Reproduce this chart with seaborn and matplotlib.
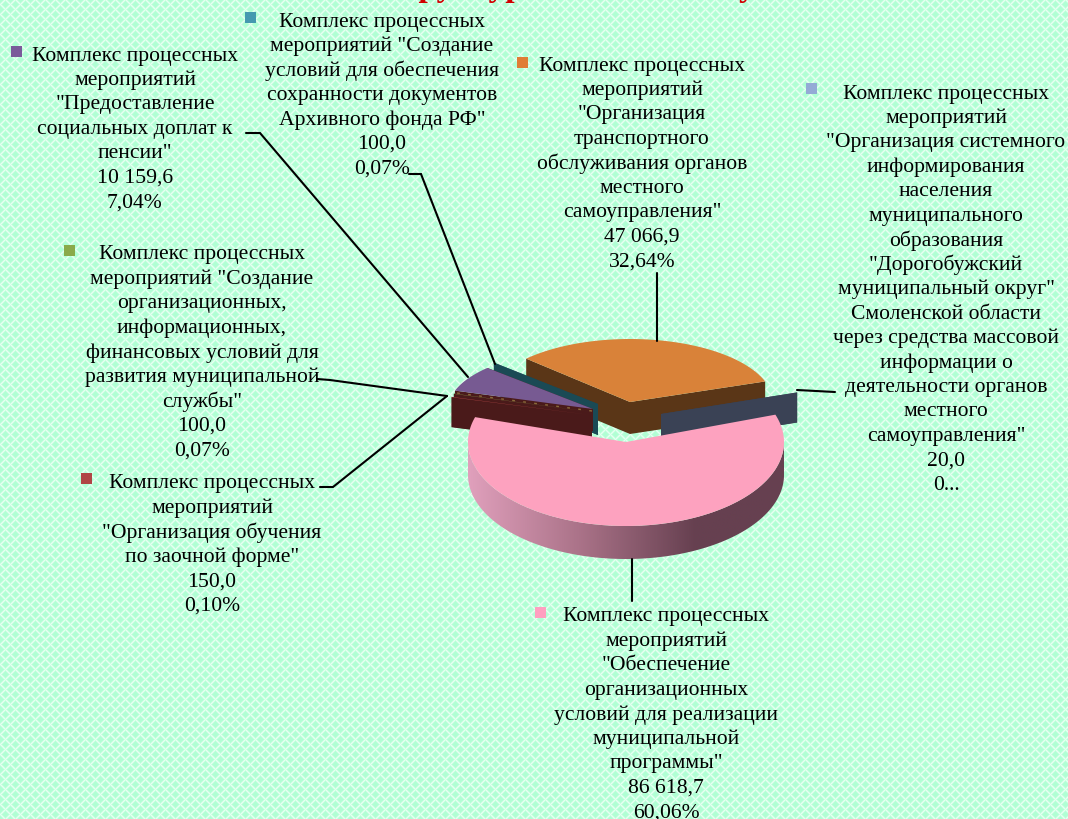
import numpy as np
import matplotlib.pyplot as plt
from matplotlib.colors import LinearSegmentedColormap, to_rgb
from matplotlib.patches import Polygon
import seaborn as sns

W, H = 1068, 820

# slices, counter-clockwise starting from the right
slice_names = ["blue", "orange", "teal", "purple", "green", "red", "pink"]
slice_values = [20.0, 47066.9, 100.0, 10159.6, 100.0, 150.0, 86618.7]
top_colors = ["#3a4255", "#d98239", "#1a4a55", "#775a92", "#8aaa4a", "#b04545", "#fda2bf"]
wall_colors = ["#3a4255", "#5a3617", "#1a4a55", "#4a1a1a", "#4a1a1a", "#4a1a1a", "#664050"]
key_colors = ["#94aad6", "#e07d35", "#4599b0", "#7a5a9a", "#8aaa4a", "#b04545", "#ff9fc0"]

blue_lines = ["Комплекс процессных", "мероприятий", "\"Организация системного", "информирования",
              "населения", "муниципального", "образования", "\"Дорогобужский",
              "муниципальный округ\"", "Смоленской области", "через средства массовой",
              "информации о", "деятельности органов", "местного", "самоуправления\"", "20,0", "0..."]
orange_lines = ["Комплекс процессных", "мероприятий", "\"Организация", "транспортного",
                "обслуживания органов", "местного", "самоуправления\"", "47 066,9", "32,64%"]
teal_lines = ["Комплекс процессных", "мероприятий \"Создание", "условий для обеспечения",
              "сохранности документов", "Архивного фонда РФ\"", "100,0", "0,07%"]
purple_lines = ["Комплекс процессных", "мероприятий", "\"Предоставление", "социальных доплат к",
                "пенсии\"", "10 159,6", "7,04%"]
green_lines = ["Комплекс процессных", "мероприятий \"Создание", "организационных,", "информационных,",
               "финансовых условий для", "развития муниципальной", "службы\"", "100,0", "0,07%"]
red_lines = ["Комплекс процессных", "мероприятий", "\"Организация обучения", "по заочной форме\"",
             "150,0", "0,10%"]
pink_lines = ["Комплекс процессных", "мероприятий", "\"Обеспечение", "организационных",
              "условий для реализации", "муниципальной", "программы\"", "86 618,7", "60,06%"]

sns.set_theme(style="white")
plt.rcParams["font.family"] = ["Liberation Serif", "DejaVu Serif"]

fig = plt.figure(figsize=(W / 100, H / 100), dpi=100)
ax = fig.add_axes([0, 0, 1, 1])

# lattice texture behind the chart
yy, xx = np.mgrid[0:H, 0:W]
period = 10
d1 = np.abs((xx + yy) % period - period / 2)
d2 = np.abs((xx - yy) % period - period / 2)
shade = np.clip((2.2 - np.minimum(d1, d2)) / 2.2, 0, 1)[..., None]
mint = np.array(to_rgb("#b0ffd4"))
ax.imshow(mint + (1 - mint) * shade * 0.7, extent=(0, W, H, 0), aspect="auto", zorder=0)

# angles from the values
start_angle = 19.0
sweeps = np.array(slice_values) / sum(slice_values) * 360
ends = start_angle + np.cumsum(sweeps)
starts = ends - sweeps


def rim(cx, cy, rx, ry, a0, a1, n=120):
    t = np.radians(np.linspace(a0, a1, n))
    return cx + rx * np.cos(t), cy - ry * np.sin(t)


def slab(name, cx, cy, rx, ry, depth, z):
    i = slice_names.index(name)
    xs, ys = rim(cx, cy, rx, ry, starts[i], ends[i])
    # cut faces first, then the top
    for k in (0, -1):
        ax.fill([cx, xs[k], xs[k], cx], [cy, ys[k], ys[k] + depth, cy + depth],
                color=wall_colors[i], lw=0, zorder=z)
    ax.fill(np.r_[cx, xs], np.r_[cy, ys], color=top_colors[i], lw=0, zorder=z + 0.2)


slab("orange", 630, 403, 143, 63, 32, 2)
slab("blue", 661, 415, 144, 66, 30, 3)
slab("teal", 598, 405, 143, 60, 31, 4)
slab("purple", 593, 410, 145, 60, 22, 4.5)
slab("green", 592, 413, 145, 60, 30, 5)
slab("red", 590, 416, 145, 60, 30, 5.2)

# small dashes where the two thin slices meet the purple one
gi = slice_names.index("green")
gx, gy = rim(592, 412, 145, 60, starts[gi], starts[gi], 2)
ax.plot([592, gx[0]], [412, gy[0]], color="#8a6a3a", lw=1, dashes=(2, 6), zorder=5.5)

# pink slice: rim with shading that darkens to the right
p = slice_names.index("pink")
pcx, pcy, prx, pry, pdepth = 626, 443, 158, 84, 33
wall_cmap = LinearSegmentedColormap.from_list(
    "pink_wall", [(0.0, "#e0a0bc"), (0.35, "#ab7389"), (0.72, "#664050"), (1.0, "#664050")])
xs, ys = rim(pcx, pcy, prx, pry, 180, 360, 200)
wall = Polygon(np.c_[np.r_[xs, xs[::-1]], np.r_[ys, ys[::-1] + pdepth]], transform=ax.transData,
               fc="none", lw=0)
ax.add_patch(wall)
img = ax.imshow(np.linspace(0, 1, 256)[None, :], cmap=wall_cmap, aspect="auto", zorder=6,
                extent=(pcx - prx, pcx + prx, pcy + pry + pdepth, pcy))
img.set_clip_path(wall)
xs, ys = rim(pcx, pcy, prx, pry, starts[p], ends[p], 240)
ax.fill(np.r_[pcx, xs], np.r_[pcy, ys], color=top_colors[p], lw=0, zorder=7)

# leader lines
leaders = [
    ([246, 260, 468], [134, 134, 378]),
    ([409, 421, 495], [175, 175, 365]),
    ([657, 657], [274, 342]),
    ([797, 835], [391, 393]),
    ([317, 330, 447], [380, 381, 397]),
    ([320, 333, 447], [488, 488, 397]),
    ([632, 632], [560, 602]),
]
for lx, ly in leaders:
    ax.plot(lx, ly, color="black", lw=1.5, zorder=8, solid_joinstyle="miter")

# text blocks: centre x, first y, key position
blocks = [
    (blue_lines, "blue", 946, 92, 806, 84),
    (orange_lines, "orange", 642, 64, 517, 58),
    (teal_lines, "teal", 382, 20, 245, 13),
    (purple_lines, "purple", 135, 54, 11, 47),
    (green_lines, "green", 202, 253, 64, 246),
    (red_lines, "red", 212, 482, 81, 474),
    (pink_lines, "pink", 666, 615, 535, 608),
]
line_step = 24.45
for lines, name, cx, y0, kx, ky in blocks:
    for j, line in enumerate(lines):
        ax.text(cx, y0 + 2 + j * line_step, line, ha="center", va="center",
                fontsize=15.6, color="black", zorder=9)
    ax.fill([kx, kx + 11, kx + 11, kx], [ky, ky, ky + 11, ky + 11],
            color=key_colors[slice_names.index(name)], lw=0, zorder=9)

# title is cut off by the top edge, only the descenders show
ax.text(378, -4, "Структура", ha="left", va="baseline", fontsize=24, fontweight="bold",
        color="#d00000", zorder=9)
ax.text(747, -4, "у", ha="center", va="baseline", fontsize=24, fontweight="bold",
        color="#d00000", zorder=9)

ax.set_xlim(0, W)
ax.set_ylim(H, 0)
ax.axis("off")

fig.savefig("out.png", dpi=100)
